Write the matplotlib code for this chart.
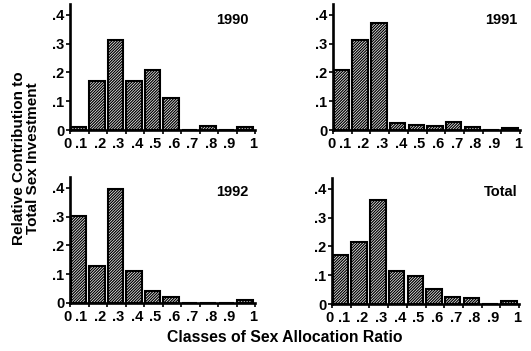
import matplotlib
matplotlib.use("Agg")
import matplotlib.pyplot as plt
from matplotlib.transforms import ScaledTranslation
import numpy as np

plt.rcParams['font.family'] = ['Liberation Sans', 'DejaVu Sans']
plt.rcParams['font.weight'] = 'bold'
plt.rcParams['hatch.linewidth'] = 0.9

class_starts = [0.0, 0.1, 0.2, 0.3, 0.4, 0.5, 0.6, 0.7, 0.8, 0.9]
tick_labels_x = ['0', '.1', '.2', '.3', '.4', '.5', '.6', '.7', '.8', '.9', '1']
tick_labels_y = ['0', '.1', '.2', '.3', '.4']

panel_titles = ['1990', '1991', '1992', 'Total']
vals_1990 = [0.010, 0.171, 0.314, 0.171, 0.209, 0.112, 0.0, 0.015, 0.0, 0.010]
vals_1991 = [0.208, 0.312, 0.372, 0.023, 0.018, 0.015, 0.027, 0.012, 0.0, 0.007]
vals_1992 = [0.301, 0.130, 0.398, 0.112, 0.041, 0.022, 0.0, 0.0, 0.0, 0.009]
vals_total = [0.172, 0.216, 0.362, 0.113, 0.099, 0.053, 0.023, 0.020, 0.0, 0.009]

fig = plt.figure(figsize=(5.31, 3.51), dpi=100)

W, H = 531.0, 351.0
# (left px, right px, y of zero px, y of top px)
boxes = [(70, 255, 130, 4), (333, 520, 130, 4), (70, 255, 303, 177), (332, 519, 304, 178)]
title_pos = [(0.88, 0.875), (0.90, 0.875), (0.88, 0.88), (0.90, 0.89)]
series = [vals_1990, vals_1991, vals_1992, vals_total]

for (l, r, b, t), vals, title, tp in zip(boxes, series, panel_titles, title_pos):
    ax = fig.add_axes([l / W, 1 - b / H, (r - l) / W, (b - t) / H])
    ax.bar(np.array(class_starts) + 0.004, vals, width=0.083, align='edge',
           facecolor='white', edgecolor='black', linewidth=1.5, hatch='////////////')
    ax.set_xlim(0, 1)
    ax.set_ylim(0, 0.438)
    for s in ['top', 'right']:
        ax.spines[s].set_visible(False)
    for s in ['left', 'bottom']:
        ax.spines[s].set_linewidth(1.9)
    xt = np.linspace(0, 1, 11)
    ax.set_xticks(xt)
    ax.set_xticklabels(tick_labels_x, fontsize=10.5, fontweight='bold')
    ax.set_yticks([0, 0.1, 0.2, 0.3, 0.4])
    ax.set_yticklabels(tick_labels_y, fontsize=10.5, fontweight='bold')
    ax.tick_params(axis='x', length=3, width=1.2, pad=2)
    ax.tick_params(axis='y', length=3, width=1.2, pad=1)
    for lab in ax.get_xticklabels():
        txt = lab.get_text()
        dx = -2 if txt in ('0', '1') else -7
        lab.set_transform(lab.get_transform() + ScaledTranslation(dx / 100, 0, fig.dpi_scale_trans))
    ax.text(tp[0], tp[1], title, transform=ax.transAxes, ha='center', va='center',
            fontsize=10.5, fontweight='bold')

fig.text(26 / W, 1 - 158 / H, 'Relative Contribution to\nTotal Sex Investment',
         rotation=90, ha='center', va='center', fontsize=11, fontweight='bold',
         linespacing=0.95)
fig.text(285 / W, 1 - 337 / H, 'Classes of Sex Allocation Ratio', ha='center', va='center',
         fontsize=11.3, fontweight='bold')

fig.savefig('out.png', dpi=100)
